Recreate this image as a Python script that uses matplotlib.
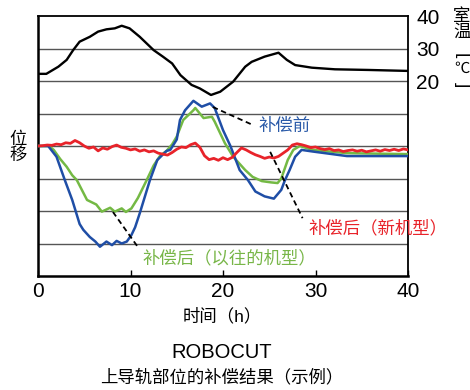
import numpy as np
import matplotlib
matplotlib.use("Agg")
import matplotlib.pyplot as plt

plt.rcParams['font.family'] = ['Liberation Sans', 'Noto Sans CJK SC', 'DejaVu Sans']

# room temperature (h, degC)
temp_h = [0, 0.9, 2.2, 3.1, 3.8, 4.5, 5.6, 6.5, 7.4, 8.3, 9.05, 9.9, 11.0, 12.5, 13.5,
          14.5, 15.4, 16.6, 17.5, 18.7, 19.7, 21.1, 22.4, 23.1, 24.5, 26.0, 26.9, 27.8,
          29.6, 32.1, 35.7, 40]
temp_c = [22.2, 22.2, 24.4, 26.5, 29.5, 32.1, 33.6, 35.2, 35.9, 36.2, 37.0, 36.2, 33.6,
          29.5, 27.5, 25.4, 21.8, 18.8, 17.7, 15.7, 16.7, 19.8, 24.4, 25.9, 27.5, 28.7,
          26.5, 24.9, 24.1, 23.6, 23.4, 23.1]

# displacement before compensation (grid units)
blue_h = [0, 1.1, 2.0, 2.9, 3.7, 4.5, 4.9, 5.6, 6.2, 6.7, 7.4, 8.0, 8.5, 9.05, 9.6, 10.1,
          10.5, 11.0, 12.1, 12.9, 13.9, 14.3, 15.0, 15.35, 15.9, 16.8, 17.7, 18.6, 19.1,
          20.0, 20.8, 21.1, 21.8, 22.7, 23.5, 24.5, 25.5, 26.3, 26.7, 27.2, 27.8, 28.5,
          29.7, 33.4, 40]
blue_d = [0, 0, -0.33, -1.05, -1.66, -2.4, -2.58, -2.8, -2.94, -3.1, -2.94, -3.05, -2.92,
          -3.0, -2.94, -2.74, -2.5, -2.07, -1.05, -0.43, -0.15, -0.12, 0.2, 0.8, 1.1, 1.39,
          1.21, 1.31, 1.17, 0.49, 0.0, -0.22, -0.74, -1.05, -1.4, -1.55, -1.62, -1.35,
          -1.05, -0.74, -0.33, -0.12, -0.17, -0.31, -0.31]

# after compensation, previous model
green_h = [0, 1.2, 1.7, 2.4, 3.1, 3.7, 4.2, 5.3, 6.3, 6.9, 7.8, 8.3, 9.05, 9.5, 10.1, 10.8,
           11.75, 12.5, 13.2, 13.9, 14.5, 15.0, 15.7, 16.8, 17.0, 17.9, 18.8, 19.1, 20.2,
           21.1, 22.4, 23.2, 24.2, 25.2, 25.9, 26.3, 27.0, 27.6, 28.3, 29.7, 33.4, 40]
green_d = [0, 0, -0.12, -0.4, -0.64, -0.9, -1.05, -1.66, -1.8, -2.02, -1.9, -2.02, -1.92,
           -2.03, -1.92, -1.6, -1.05, -0.6, -0.3, -0.15, 0.05, 0.29, 0.8, 1.1, 1.17, 0.86,
           0.9, 0.75, 0.09, -0.33, -0.74, -0.95, -1.08, -1.12, -1.14, -1.0, -0.43, -0.12,
           0.0, -0.12, -0.22, -0.25]

# after compensation, new model (every 0.5 h)
red_h = np.arange(0, 40.5, 0.5)
red_d = [0.00, 0.01, 0.03, 0.02, 0.06, 0.04, 0.10, 0.08, 0.17, 0.10,
         0.00, -0.07, -0.03, -0.15, -0.06, -0.10, -0.02, 0.03, -0.04, -0.07,
         -0.12, -0.09, -0.16, -0.12, -0.18, -0.15, -0.22, -0.25, -0.28, -0.20,
         -0.10, -0.03, -0.05, 0.04, 0.09, -0.04, -0.30, -0.42, -0.38, -0.44,
         -0.36, -0.42, -0.35, -0.20, -0.06, -0.12, -0.20, -0.27, -0.32, -0.38,
         -0.34, -0.37, -0.32, -0.22, -0.12, 0.03, 0.07, 0.04, 0.00, -0.05,
         -0.03, -0.08, -0.11, -0.08, -0.14, -0.12, -0.17, -0.14, -0.12, -0.16,
         -0.13, -0.18, -0.15, -0.12, -0.16, -0.11, -0.14, -0.10, -0.14, -0.09,
         -0.12]

x_ticks = [0, 10, 20, 30, 40]
temp_ticks = [20, 30, 40]

BLUE = '#1f4ea6'
GREEN = '#74b944'
RED = '#e8232a'
CJK = dict(fontweight='medium')

W, H = 470, 390
fig = plt.figure(figsize=(W / 100, H / 100), dpi=100)
ax = fig.add_axes([38 / W, 1 - 276 / H, 370 / W, 260 / H])
ax.set_xlim(0, 40)
ax.set_ylim(0, 8)

for k in range(1, 8):
    ax.axhline(k, color='#555555', lw=1.0, zorder=1)

zero = 4
ax.plot(green_h, [zero + v for v in green_d], color=GREEN, lw=1.8, zorder=3)
ax.plot(blue_h, [zero + v for v in blue_d], color=BLUE, lw=1.8, zorder=4)
ax.plot(red_h, [zero + v for v in red_d], color=RED, lw=2.0, zorder=5)

# leader lines
ax.plot([18.9, 23.2], [5.2, 4.65], color='black', lw=1.3, ls=(0, (3, 2)), zorder=6)
ax.plot([25.1, 28.6], [3.82, 1.78], color='black', lw=1.3, ls=(0, (3, 2)), zorder=6)
ax.plot([8.1, 10.8], [1.97, 0.89], color='black', lw=1.3, ls=(0, (3, 2)), zorder=6)

ax.text(23.8, 4.62, '补偿前', color='#2a5aa8', fontsize=12.5, va='center', ha='left', **CJK)
ax.text(29.2, 1.48, '补偿后（新机型）', color=RED, fontsize=12.5, va='center', ha='left',
        clip_on=False, **CJK)
ax.text(11.35, 0.55, '补偿后（以往的机型）', color='#78b648', fontsize=12.5,
        va='center', ha='left', **CJK)

ax.set_xticks(x_ticks)
ax.set_yticks([])
ax.tick_params(axis='x', direction='in', length=4, width=1, pad=4, labelsize=15)
for side in ['left', 'bottom']:
    ax.spines[side].set_linewidth(1.8)
for side in ['top', 'right']:
    ax.spines[side].set_linewidth(1.3)

ax2 = ax.twinx()
ax2.set_ylim(-40, 40)
ax2.plot(temp_h, temp_c, color='black', lw=1.7, zorder=5)
ax2.set_yticks(temp_ticks)
ax2.tick_params(axis='y', length=0, pad=6, labelsize=15)
for s in ax2.spines.values():
    s.set_visible(False)

# outer texts
fig.text(18 / W, 1 - 147 / H, '位\n移', fontsize=12.5, ha='center', va='center',
         linespacing=1.0, **CJK)
fig.text(9 / W, 1 - 231 / H, '补偿后（新机型）', fontsize=12.5, color=RED, ha='right',
         va='center', **CJK)
fig.text(462 / W, 1 - 24 / H, '室\n温', fontsize=12.5, ha='center', va='center',
         linespacing=0.95, **CJK)
fig.text(462 / W, 1 - 56 / H, '[', fontsize=14, ha='center', va='center', rotation=-90)
fig.text(462 / W, 1 - 69 / H, '℃', fontsize=11, ha='center', va='center')
fig.text(462 / W, 1 - 85 / H, ']', fontsize=14, ha='center', va='center', rotation=-90)

fig.text(222 / W, 1 - 316 / H, '时间（h）', fontsize=12.5, ha='center', va='center', **CJK)
fig.text(222 / W, 1 - 353 / H, 'ROBOCUT', fontsize=14.5, ha='center', va='center')
fig.text(222 / W, 1 - 377 / H, '上导轨部位的补偿结果（示例）', fontsize=12.5,
         ha='center', va='center', **CJK)

fig.savefig('out.png', dpi=100)
